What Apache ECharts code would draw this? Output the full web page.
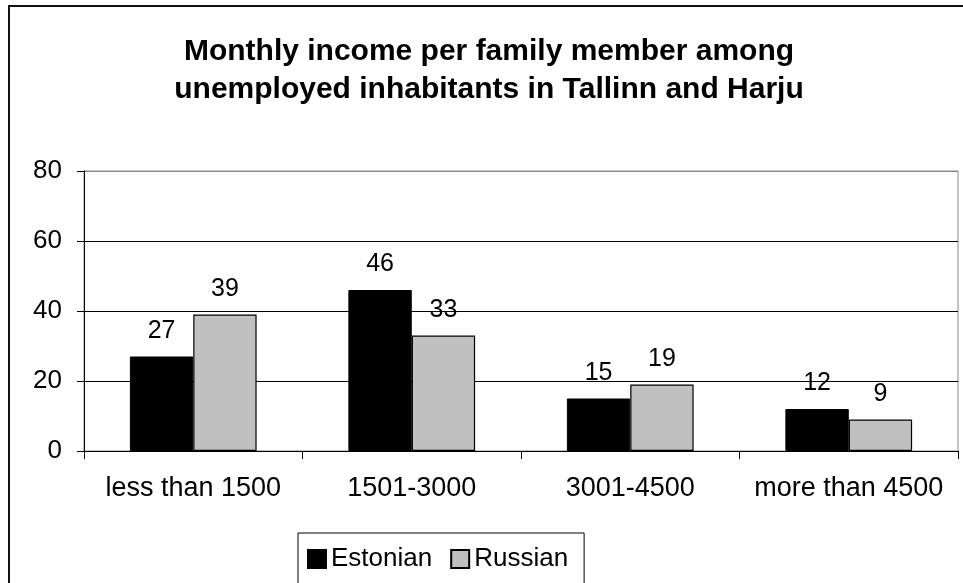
<!DOCTYPE html>
<html>
<head>
<meta charset="utf-8">
<script src="https://cdn.jsdelivr.net/npm/echarts@6/dist/echarts.min.js"></script>
<style>
  html, body { margin: 0; padding: 0; background: #fff; }
  #chart { width: 963px; height: 583px; }
</style>
</head>
<body>
<div id="chart"></div>
<script>
const categories = ['less than 1500', '1501-3000', '3001-4500', 'more than 4500']
const estonian = [27, 46, 15, 12]
const russian = [39, 33, 19, 9]
const yTicks = [0, 20, 40, 60, 80]

let myChart = echarts.init(document.getElementById('chart'))
const font = 'Liberation Sans, Arial, sans-serif'

let option = {
  animation: false,
  textStyle: { fontFamily: font },
  title: {
    text: 'Monthly income per family member among\nunemployed inhabitants in Tallinn and Harju',
    left: 484,
    textAlign: 'center',
    top: 28,
    textStyle: {
      fontFamily: font,
      fontSize: 30,
      fontWeight: 'bold',
      color: '#000',
      lineHeight: 38
    }
  },
  legend: {
    data: ['Estonian', 'Russian'],
    left: 298,
    top: 533,
    orient: 'horizontal',
    icon: 'rect',
    padding: [13, 16, 13, 9],
    itemGap: 18,
    itemWidth: 18,
    itemHeight: 18,
    borderColor: '#000',
    borderWidth: 1,
    textStyle: { fontFamily: font, fontSize: 26, color: '#000' }
  },
  grid: {
    left: 84,
    right: 5,
    top: 171,
    bottom: 132,
    show: true,
    borderColor: '#888',
    borderWidth: 1
  },
  xAxis: {
    type: 'category',
    data: categories,
    axisLine: { lineStyle: { color: '#000', width: 1 } },
    axisTick: { show: true, interval: 0, length: 8, lineStyle: { color: '#000' } },
    axisLabel: { interval: 0, fontFamily: font, fontSize: 27, color: '#000', margin: 24 }
  },
  yAxis: {
    type: 'value',
    min: yTicks[0],
    max: yTicks[yTicks.length - 1],
    interval: 20,
    axisLine: { show: true, lineStyle: { color: '#000' } },
    axisTick: { show: true, length: 7, lineStyle: { color: '#000' } },
    axisLabel: { fontFamily: font, fontSize: 26, color: '#000', margin: 22 },
    splitLine: { lineStyle: { color: ['#000', '#000', '#000', '#000', '#888'], width: 1 } }
  },
  series: [
    {
      name: 'Estonian',
      type: 'bar',
      data: estonian,
      barGap: '0%',
      barCategoryGap: '42%',
      itemStyle: { color: '#000', borderColor: '#000', borderWidth: 1 },
      label: { show: true, position: 'top', distance: 13, fontFamily: font, fontSize: 25, color: '#000' }
    },
    {
      name: 'Russian',
      type: 'bar',
      data: russian,
      itemStyle: { color: '#c0c0c0', borderColor: '#000', borderWidth: 1.2 },
      label: { show: true, position: 'top', distance: 13, fontFamily: font, fontSize: 25, color: '#000' }
    }
  ],
  graphic: [
    {
      type: 'rect',
      shape: { x: 9, y: 6, width: 1000, height: 1000 },
      style: { fill: 'none', stroke: '#111', lineWidth: 2 },
      silent: true
    }
  ]
}

myChart.setOption(option)
</script>
</body>
</html>
